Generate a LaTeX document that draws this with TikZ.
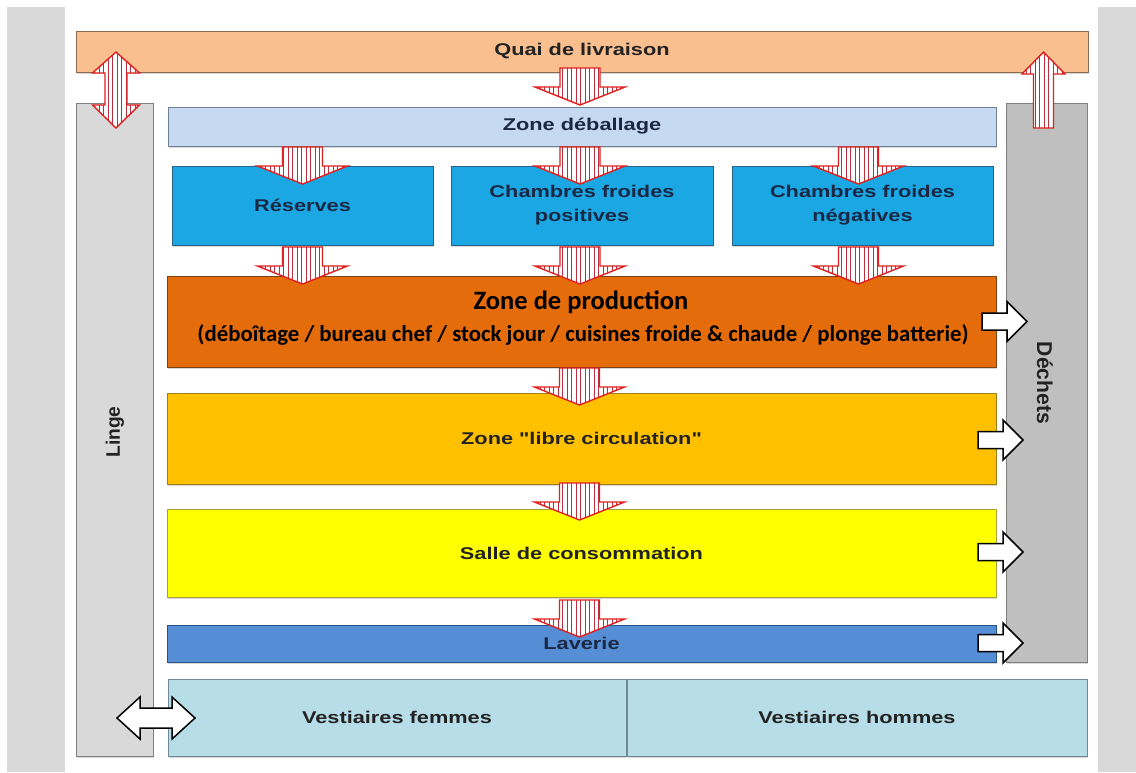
\documentclass[tikz,border=0pt]{standalone}
\usepackage{fontspec}
\newfontfamily\arialx{Liberation Sans}[FakeStretch=1.28]
\newfontfamily\calib{Carlito}
\usetikzlibrary{patterns.meta,calc,shadows}
\definecolor{bggray}{HTML}{D9D9D9}
\definecolor{quaiF}{HTML}{F9BF8F}\definecolor{quaiD}{HTML}{8A6A50}
\definecolor{lingeF}{HTML}{D9D9D9}\definecolor{grayD}{HTML}{7F7F7F}
\definecolor{debF}{HTML}{C5D9F1}\definecolor{debD}{HTML}{6F8099}
\definecolor{blueF}{HTML}{1AA7E4}\definecolor{blueD}{HTML}{2A6288}
\definecolor{prodF}{HTML}{E46C0A}\definecolor{prodD}{HTML}{7A4210}
\definecolor{libreF}{HTML}{FFC000}\definecolor{libreD}{HTML}{9A7E20}
\definecolor{salleF}{HTML}{FFFF00}\definecolor{salleD}{HTML}{A8A040}
\definecolor{lavF}{HTML}{558ED5}\definecolor{lavD}{HTML}{2A5288}
\definecolor{dechF}{HTML}{BFBFBF}
\definecolor{vestF}{HTML}{B7DDE8}\definecolor{vestD}{HTML}{6F8A96}
\definecolor{arrred}{HTML}{E0201E}
\definecolor{stripe}{HTML}{B83040}
\definecolor{navy}{HTML}{1B2844}
\definecolor{dark}{HTML}{222222}
\begin{document}
\begin{tikzpicture}[x=1pt,y=-1pt,
  zone/.style={line width=0.9pt, inner sep=0pt, outer sep=0pt, anchor=north west,
    font=\arialx\bfseries\fontsize{17}{24}\selectfont, align=center, text=dark,
    drop shadow={opacity=0.3, shadow xshift=1.2pt, shadow yshift=-1.5pt}},
  redarrow/.style={draw=arrred, line width=1.4pt, line join=miter,
    preaction={fill=white},
    pattern={Lines[angle=90,distance=4.5pt,line width=0.8pt]}, pattern color=stripe},
  whitearrow/.style={draw=black, line width=1.5pt, fill=white, line join=miter},
  downarr/.pic={\draw[redarrow] (-20,0) -- (20,0) -- (20,19) -- (45,19) -- (0,37) -- (-45,19) -- (-20,19) -- cycle;},
  rightarr/.pic={\draw[whitearrow] (0,-8.5) -- (25,-8.5) -- (25,-20) -- (45,0) -- (25,20) -- (25,8.5) -- (0,8.5) -- cycle;},
  uparr/.pic={\draw[redarrow] (-10,0) -- (-10,-54) -- (-21.5,-54) -- (0,-76) -- (21.5,-54) -- (10,-54) -- (10,0) -- cycle;},
  vdouble/.pic={\draw[redarrow] (0,-38) -- (23.5,-17) -- (11,-17) -- (11,15) -- (23.5,15) -- (0,38) -- (-23.5,15) -- (-11,15) -- (-11,-17) -- (-23.5,-17) -- cycle;},
  hdouble/.pic={\draw[whitearrow] (-39,0) -- (-16,-21) -- (-16,-10) -- (16,-10) -- (16,-21) -- (39,0) -- (16,21) -- (16,10) -- (-16,10) -- (-16,21) -- cycle;}
]
\useasboundingbox (0,0) rectangle (1136,772);
\fill[white] (0,0) rectangle (1136,772);
\fill[bggray] (7,7) rectangle (65,772);
\fill[bggray] (1098,7) rectangle (1136,772);

% zones
\node[zone, draw=quaiD, fill=quaiF, minimum width=1012pt, minimum height=41pt] (quai) at (76,31) {};
\node[text=dark, font=\arialx\bfseries\fontsize{17}{20}\selectfont] (quait) at (582,51) {Quai de livraison};
\node[zone, draw=grayD, fill=lingeF, minimum width=77pt, minimum height=653pt] (linge) at (76,103) {};
\node[zone, draw=grayD, fill=dechF, minimum width=81pt, minimum height=559pt] (dech) at (1006,103) {};
\node[zone, draw=debD, fill=debF, minimum width=828pt, minimum height=39pt, text=navy] (deb) at (168,107) {Zone déballage};
\node[zone, draw=blueD, fill=blueF, minimum width=261pt, minimum height=79pt, text=navy] (res) at (172,166) {Réserves};
\node[zone, draw=blueD, fill=blueF, minimum width=262pt, minimum height=79pt, text=navy] (cfp) at (451,166) {Chambres froides\\positives};
\node[zone, draw=blueD, fill=blueF, minimum width=261pt, minimum height=79pt, text=navy] (cfn) at (732,166) {Chambres froides\\négatives};
\node[zone, draw=prodD, fill=prodF, minimum width=829pt, minimum height=91pt] (prod) at (167,276) {};
\node[text=black, font=\calib\bfseries\fontsize{26.5}{30}\selectfont] (prodT1) at (581,302) {Zone de production};
\node[text=black, font=\calib\bfseries\fontsize{22.8}{26}\selectfont] (prodT2) at (583,335) {(déboîtage / bureau chef / stock jour / cuisines froide \& chaude / plonge batterie)};
\node[zone, draw=libreD, fill=libreF, minimum width=829pt, minimum height=91pt] (libre) at (167,393) {Zone "libre circulation"};
\node[zone, draw=salleD, fill=salleF, minimum width=829pt, minimum height=88pt] (salle) at (167,509) {Salle de consommation};
\node[zone, draw=lavD, fill=lavF, minimum width=829pt, minimum height=37pt, text=navy] (lav) at (167,625) {Laverie};
\node[zone, draw=vestD, fill=vestF, minimum width=458pt, minimum height=77pt] (vestf) at (168,679) {Vestiaires femmes};
\node[zone, draw=vestD, fill=vestF, minimum width=460pt, minimum height=77pt] (vesth) at (627,679) {Vestiaires hommes};

% vertical labels
\node[text=dark, rotate=90, font=\arialx\bfseries\fontsize{15}{20}\selectfont] (lingeT) at (115,432) {\scalebox{1}[1.3]{Linge}};
\node[text=dark, rotate=-90, font=\arialx\bfseries\fontsize{16.5}{20}\selectfont] (dechT) at (1045,383) {\scalebox{1}[1.3]{Déchets}};

% red down arrows
\pic at ($(quai.south)+(-2,-4)$) {downarr};
\pic at ($(res.north |- deb.south)+(0,1)$) {downarr};
\pic at ($(cfp.north |- deb.south)+(-2,1)$) {downarr};
\pic at ($(cfn.north |- deb.south)+(-4,1)$) {downarr};
\pic at ($(res.south)+(0,2)$) {downarr};
\pic at ($(cfp.south)+(-2,2)$) {downarr};
\pic at ($(cfn.south)+(-4,2)$) {downarr};
\pic at ($(prod.south)+(-2,1)$) {downarr};
\pic at ($(libre.south)+(-2,-1)$) {downarr};
\pic at ($(salle.south)+(-2,3)$) {downarr};

% red arrows to quai
\coordinate (lingeTop) at ($(linge.north |- quai.south)!0.5!(linge.north)+(1.5,2.5)$);
\pic at (lingeTop) {vdouble};
\coordinate (upbase) at ($(dech.north)+(-3,25)$);
\pic at (upbase) {uparr};

% white arrows to dechets
\pic at ($(prod.east)+(-14,0)$) {rightarr};
\pic at ($(libre.east)+(-18,1.5)$) {rightarr};
\pic at ($(salle.east)+(-18,-1)$) {rightarr};
\pic at ($(lav.east)+(-18,-0.5)$) {rightarr};

% linge <-> vestiaires
\pic at ($(linge.east |- vestf.west)+(3,0.5)$) {hdouble};
\end{tikzpicture}
\end{document}
